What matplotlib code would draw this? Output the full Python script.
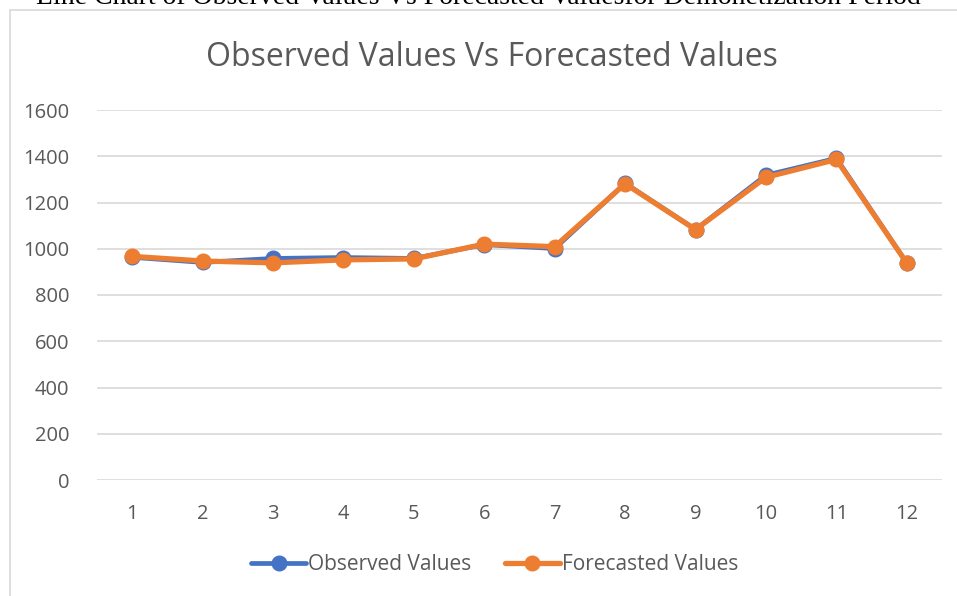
import numpy as np
from matplotlib import pyplot as plt
from matplotlib.patches import Rectangle

periods = np.arange(1, 13)
observed = [963, 941, 958, 962, 958, 1018, 1001, 1283, 1083, 1318, 1391, 938]
forecasted = [967, 947, 939, 952, 956, 1020, 1009, 1281, 1083, 1309, 1386, 938]
tick_labels = [str(p) for p in periods]

blue = '#4472C4'
orange = '#ED7D31'
gray_text = '#595959'
grid_gray = '#D9D9D9'

plt.rcParams['font.family'] = ['Open Sans', 'DejaVu Sans']

fig = plt.figure(figsize=(9.57, 5.96), dpi=100)
ax = fig.add_axes([97 / 957, 1 - 480 / 596, (942 - 97) / 957, 370 / 596])

# outer chart border and cut-off caption above it
fig.patches.append(Rectangle((9.5 / 957, -0.1), 1.0, 1 - 9.5 / 596 + 0.1,
                             transform=fig.transFigure, fill=False,
                             edgecolor=grid_gray, linewidth=1.2))
fig.text(0.5, 1 + 2 / 596, 'Line Chart of Observed Values Vs Forecasted Valuesfor Demonetization Period',
         ha='center', va='center', fontsize=20, family='Liberation Serif', color='black')

ax.plot(periods, observed, color=blue, lw=3.4, marker='o', ms=10.5,
        label='Observed Values', solid_capstyle='round', zorder=3)
ax.plot(periods, forecasted, color=orange, lw=3.8, marker='o', ms=10.5,
        label='Forecasted Values', solid_capstyle='round', zorder=4)

ax.set_xlim(0.5, 12.5)
ax.set_ylim(0, 1600)
ax.set_yticks(np.arange(0, 1601, 200))
ax.set_xticks(periods)
ax.set_xticklabels(tick_labels)
ax.grid(axis='y', color=grid_gray, lw=1.2)
ax.set_axisbelow(True)
for s in ax.spines.values():
    s.set_visible(False)
ax.tick_params(length=0, labelsize=14.5, colors=gray_text, pad=17)
ax.tick_params(axis='y', pad=20)

fig.text(0.514, 1 - 57 / 596, 'Observed Values Vs Forecasted Values',
         ha='center', va='center', fontsize=23, color=gray_text)

fig.legend(loc='center', bbox_to_anchor=(0.517, 1 - 565 / 596), ncol=2,
           frameon=False, fontsize=15, labelcolor=gray_text, handlelength=2.65,
           handletextpad=0.1, columnspacing=1.6)

fig.savefig('out.png', dpi=100)
